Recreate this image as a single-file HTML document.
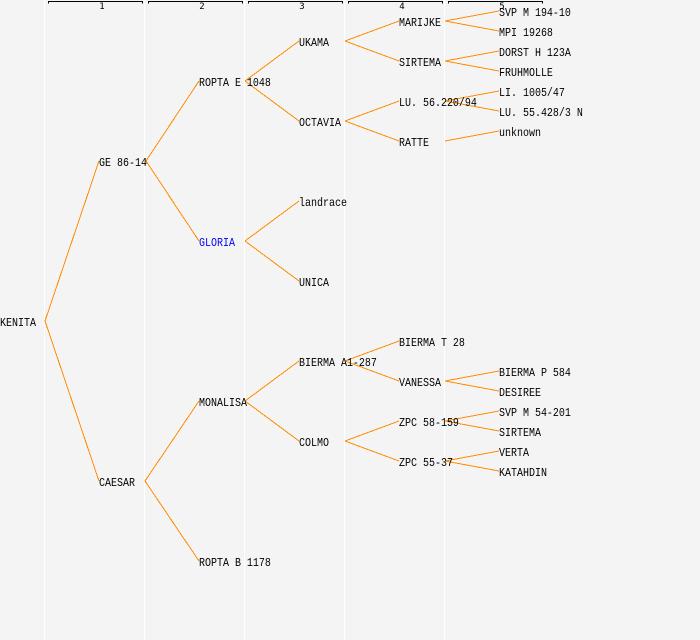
<!DOCTYPE html>
<html>
<head>
<meta charset="utf-8">
<style>
html,body{margin:0;padding:0;background:#f4f4f4;}
svg{display:block;}
text{font-family:"Liberation Mono","DejaVu Sans Mono",monospace;font-size:12px;fill:#000;transform-box:fill-box;transform-origin:0 50%;transform:scaleX(.8333);}
.n{font-family:"DejaVu Sans Mono",monospace;font-size:9px;text-anchor:middle;transform:none;}
.o line{stroke:#ff8c00;stroke-width:1;shape-rendering:crispEdges;}
.w rect{fill:#fff;}
.b path{fill:none;stroke:#000;stroke-width:1;shape-rendering:crispEdges;}
</style>
</head>
<body>
<svg width="700" height="640" viewBox="0 0 700 640" xmlns="http://www.w3.org/2000/svg">
<rect width="700" height="640" fill="#f4f4f4"/>
<g class="w">
<rect x="44" y="0" width="1" height="640"/>
<rect x="144" y="0" width="1" height="640"/>
<rect x="244" y="0" width="1" height="640"/>
<rect x="344" y="0" width="1" height="640"/>
<rect x="444" y="0" width="1" height="640"/>
</g>
<g class="b">
<path d="M48.5 3.5V1.5H142.5V3.5"/>
<path d="M148.5 3.5V1.5H242.5V3.5"/>
<path d="M248.5 3.5V1.5H342.5V3.5"/>
<path d="M348.5 3.5V1.5H442.5V3.5"/>
<path d="M448.5 3.5V1.5H542.5V3.5"/>
</g>
<g class="o">
<line x1="45" y1="321" x2="99" y2="161"/>
<line x1="45" y1="321" x2="99" y2="481"/>
<line x1="146" y1="161" x2="199" y2="81"/>
<line x1="146" y1="161" x2="199" y2="241"/>
<line x1="145" y1="481" x2="199" y2="401"/>
<line x1="145" y1="481" x2="199" y2="561"/>
<line x1="245" y1="81" x2="299" y2="41"/>
<line x1="245" y1="81" x2="299" y2="121"/>
<line x1="245" y1="241" x2="299" y2="201"/>
<line x1="245" y1="241" x2="299" y2="281"/>
<line x1="245" y1="401" x2="299" y2="361"/>
<line x1="245" y1="401" x2="299" y2="441"/>
<line x1="345" y1="41" x2="399" y2="21"/>
<line x1="345" y1="41" x2="399" y2="61"/>
<line x1="345" y1="121" x2="399" y2="101"/>
<line x1="345" y1="121" x2="399" y2="141"/>
<line x1="345" y1="361" x2="399" y2="341"/>
<line x1="345" y1="361" x2="399" y2="381"/>
<line x1="345" y1="441" x2="399" y2="421"/>
<line x1="345" y1="441" x2="399" y2="461"/>
<line x1="445" y1="21" x2="499" y2="11"/>
<line x1="445" y1="21" x2="499" y2="31"/>
<line x1="445" y1="61" x2="499" y2="51"/>
<line x1="445" y1="61" x2="499" y2="71"/>
<line x1="445" y1="101" x2="499" y2="91"/>
<line x1="445" y1="101" x2="499" y2="111"/>
<line x1="445" y1="141" x2="499" y2="131"/>
<line x1="445" y1="381" x2="499" y2="371"/>
<line x1="445" y1="381" x2="499" y2="391"/>
<line x1="445" y1="421" x2="499" y2="411"/>
<line x1="445" y1="421" x2="499" y2="431"/>
<line x1="445" y1="461" x2="499" y2="451"/>
<line x1="445" y1="461" x2="499" y2="471"/>
</g>
<text class="n" x="102" y="9">1</text>
<text class="n" x="202" y="9">2</text>
<text class="n" x="302" y="9">3</text>
<text class="n" x="402" y="9">4</text>
<text class="n" x="502" y="9">5</text>
<text x="0" y="326">KENITA</text>
<text x="99" y="166">GE 86-14</text>
<text x="99" y="486">CAESAR</text>
<text x="199" y="86">ROPTA E 1048</text>
<text x="199" y="246" style="fill:#0000ff">GLORIA</text>
<text x="199" y="406">MONALISA</text>
<text x="199" y="566">ROPTA B 1178</text>
<text x="299" y="46">UKAMA</text>
<text x="299" y="126">OCTAVIA</text>
<text x="299" y="206">landrace</text>
<text x="299" y="286">UNICA</text>
<text x="299" y="366">BIERMA A1-287</text>
<text x="299" y="446">COLMO</text>
<text x="399" y="26">MARIJKE</text>
<text x="399" y="66">SIRTEMA</text>
<text x="399" y="106">LU. 56.220/94</text>
<text x="399" y="146">RATTE</text>
<text x="399" y="346">BIERMA T 28</text>
<text x="399" y="386">VANESSA</text>
<text x="399" y="426">ZPC 58-159</text>
<text x="399" y="466">ZPC 55-37</text>
<text x="499" y="16">SVP M 194-10</text>
<text x="499" y="36">MPI 19268</text>
<text x="499" y="56">DORST H 123A</text>
<text x="499" y="76">FRUHMOLLE</text>
<text x="499" y="96">LI. 1005/47</text>
<text x="499" y="116">LU. 55.428/3 N</text>
<text x="499" y="136">unknown</text>
<text x="499" y="376">BIERMA P 584</text>
<text x="499" y="396">DESIREE</text>
<text x="499" y="416">SVP M 54-201</text>
<text x="499" y="436">SIRTEMA</text>
<text x="499" y="456">VERTA</text>
<text x="499" y="476">KATAHDIN</text>
</svg>
</body>
</html>
